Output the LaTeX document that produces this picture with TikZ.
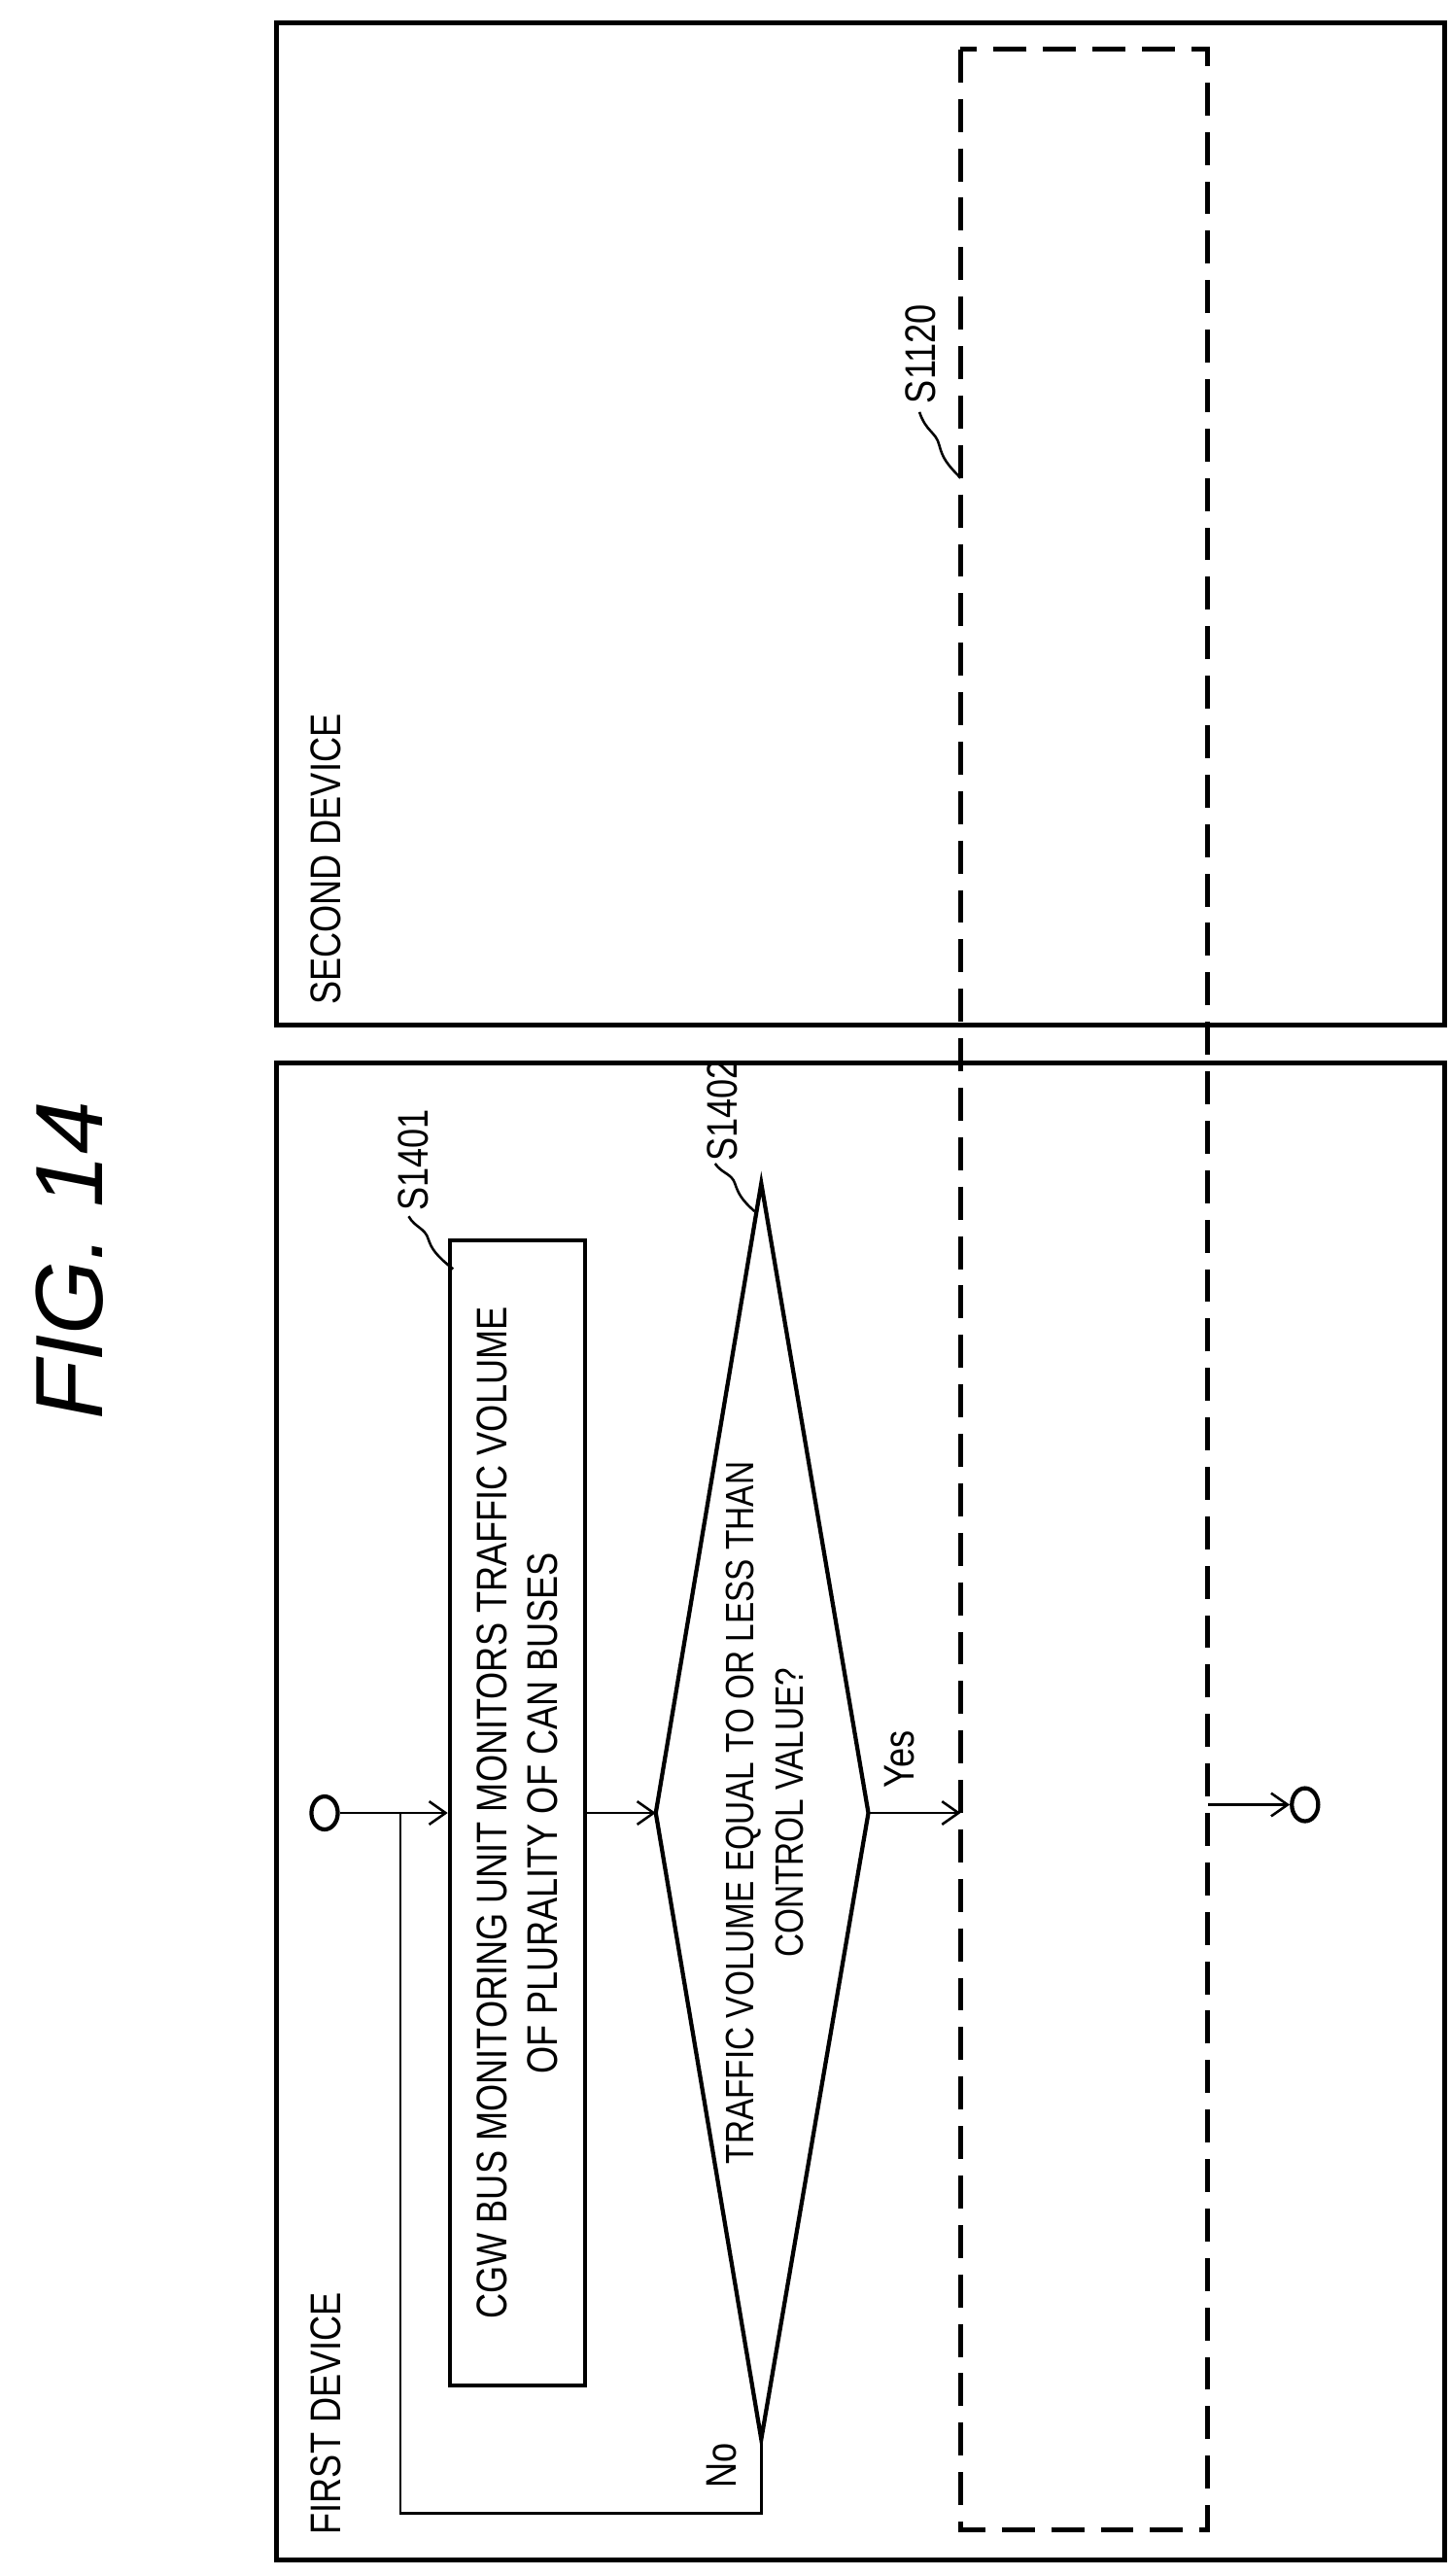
\documentclass[tikz,border=0pt]{standalone}
\usepackage{fontspec}
\setmainfont{Liberation Sans}
\newfontfamily\narrowfont[FakeStretch=0.82]{Liberation Sans}
\usetikzlibrary{shapes.geometric,arrows.meta}
\tikzset{
  lbl/.style={font=\narrowfont\fontsize{26}{31}\selectfont, inner sep=0pt, rotate=90},
  sq/.style={line width=1.5pt},
  arr/.style={line width=1.5pt, -{Straight Barb[length=10pt,width=14pt]}},
  term/.style={draw, line width=2.5pt, ellipse, minimum width=16pt, minimum height=20pt, inner sep=0pt}
}
\begin{document}
\begin{tikzpicture}[x=1pt,y=1pt,yscale=-1]
\useasboundingbox (0,0) rectangle (880,1563);
% title
\node[font=\itshape\fontsize{58}{60}\selectfont, rotate=90] (title) at (42,765) {FIG. 14};
% device frames
\draw[line width=3pt] (168,645) rectangle (877,1553);
\draw[line width=3pt] (168,14) rectangle (877,622);
\node[lbl, anchor=south west] (first) at (207,1538) {FIRST DEVICE};
\node[lbl, anchor=south west] (second) at (207,610) {SECOND DEVICE};
% S1120 region
\draw[line width=3pt, dash pattern=on 20pt off 10pt] (583,30) rectangle (733,1535);
\node[lbl, anchor=south west] (s1120) at (568,245) {S1120};
\draw[sq] (583,290) .. controls (575,282) and (572,278) .. (570,270)
  .. controls (568,262) and (562,262) .. (558,250);
% flow
\node[term] (start) at (197,1100) {};
\node[draw, line width=2.5pt, minimum width=82pt, minimum height=695pt, inner sep=0pt] (mon) at (314,1100) {};
\node[lbl, align=center] at (mon.center) {CGW BUS MONITORING UNIT MONITORS TRAFFIC VOLUME\\OF PLURALITY OF CAN BUSES};
\node[lbl, anchor=south west] (s1401) at (260,735) {S1401};
\draw[sq] (275,770) .. controls (265,762) and (262,758) .. (260,752)
  .. controls (258,745) and (252,745) .. (248,738);
\coordinate (dl) at (398,1100);
\coordinate (dr) at (527,1100);
\coordinate (dt) at (462,718);
\coordinate (db) at (462,1480);
\draw[line width=2.5pt] (dl) -- (dt) -- (dr) -- (db) -- cycle;
\node[lbl, align=center, font=\narrowfont\fontsize{24}{30}\selectfont] (q) at (464,1100) {TRAFFIC VOLUME EQUAL TO OR LESS THAN\\CONTROL VALUE?};
\node[lbl, anchor=south west] (s1402) at (448,705) {S1402};
\draw[sq] (458,735) .. controls (450,728) and (448,724) .. (446,718)
  .. controls (444,712) and (438,712) .. (434,706);
\draw[arr] (start) -- (mon.west |- start);
\draw[arr] (mon.east |- dl) -- (dl);
\draw[arr] (dr) -- (583,1100) coordinate (yesend);
\node[lbl, anchor=south west] (yes) at (555,1085) {Yes};
\coordinate (nocorner) at (243,1525);
\draw[line width=1.5pt] (db) -- (db |- nocorner) -- (nocorner) -- (243,1100);
\node[lbl, anchor=south west] (no) at (447,1510) {No};
\node[term] (stop) at (792,1095) {};
\draw[arr] (733,1095) -- (stop.west);
\end{tikzpicture}
\end{document}
